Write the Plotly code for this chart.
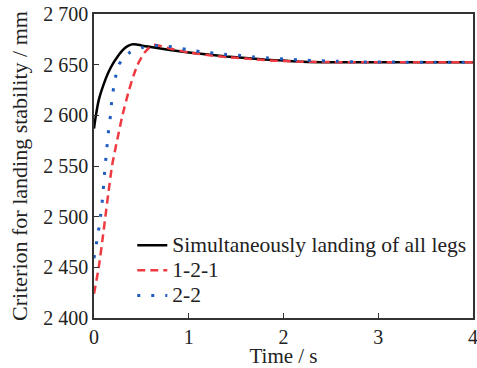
import plotly.graph_objects as go

# Time (s) and criterion values (mm)
t_all = [0, 0.02, 0.05, 0.1, 0.15, 0.2, 0.25, 0.3, 0.35, 0.4, 0.45, 0.5, 0.6, 0.8,
         1.0, 1.2, 1.4, 1.6, 1.8, 2.0, 2.2, 2.5, 3.0, 3.5, 4.0]
y_all = [2587, 2600, 2615, 2630, 2642, 2651, 2658, 2664, 2668, 2670, 2670, 2669, 2667.5, 2664.5,
         2662, 2660, 2658, 2656.5, 2655, 2654, 2653, 2652.5, 2652.5, 2652.5, 2652.5]

t_121 = [0, 0.05, 0.1, 0.12, 0.15, 0.19, 0.25, 0.3, 0.37, 0.42, 0.46, 0.5, 0.53, 0.58, 0.63,
         0.7, 0.8, 1.0, 1.2, 1.4, 1.6, 1.8, 2.0, 2.2, 2.5, 3.0, 3.5, 4.0]
y_121 = [2424, 2450, 2485, 2500, 2522, 2550, 2578, 2600, 2625, 2640, 2650, 2657, 2661.5, 2666.5, 2669.5,
         2668.5, 2666, 2662, 2659.5, 2657.5, 2656, 2654.5, 2653.5, 2653, 2652.5, 2652.5, 2652.5, 2652.5]

t_22 = [0, 0.03, 0.06, 0.09, 0.114, 0.132, 0.15, 0.174, 0.19, 0.22, 0.255, 0.3, 0.37, 0.51, 0.7,
        0.86, 0.98, 1.12, 1.26, 1.4, 1.55, 1.69, 1.84, 2.0, 2.25, 2.57, 2.82, 3.2, 3.6, 4.0]
y_22 = [2459, 2476, 2494, 2518, 2546, 2564, 2582, 2600, 2617, 2634, 2649, 2655, 2661.5, 2667, 2669,
        2667, 2665, 2663, 2661.5, 2660, 2659, 2657.6, 2656.6, 2655.6, 2654.3, 2653.3, 2652.7, 2652.5, 2652.5, 2652.5]

series_names = ["Simultaneously landing of all legs", "1-2-1", "2-2"]

x_ticks = [0, 1, 2, 3, 4]
y_ticks = [2400, 2450, 2500, 2550, 2600, 2650, 2700]
y_ticktext = ["2 400", "2 450", "2 500", "2 550", "2 600", "2 650", "2 700"]

FONT = "Liberation Serif, Times New Roman, serif"


def leg(name):
    return '<span style="font-size:21.5px">' + name + '</span>'


fig = go.Figure()
fig.add_trace(go.Scatter(x=t_all, y=y_all, mode="lines", name=leg(series_names[0]),
                         line=dict(color="black", width=2.5, shape="spline", smoothing=0.6)))
fig.add_trace(go.Scatter(x=t_121, y=y_121, mode="lines", name=leg(series_names[1]),
                         line=dict(color="#ee3a40", width=2.5, dash="8px,5px", shape="spline", smoothing=0.6)))
fig.add_trace(go.Scatter(x=t_22, y=y_22, mode="lines", name=leg(series_names[2]),
                         line=dict(color="#1f5cbf", width=3, dash="3px,11px", shape="spline", smoothing=0.6)))

fig.update_layout(
    width=477, height=368,
    margin=dict(l=94, r=4, t=14, b=50, autoexpand=False),
    paper_bgcolor="white", plot_bgcolor="white",
    font=dict(family=FONT, size=18, color="#222"),
    showlegend=True,
    legend=dict(x=0.101, y=0.297, xanchor="left", yanchor="top", bgcolor="rgba(0,0,0,0)",
                font=dict(family=FONT, size=17, color="#222"), tracegroupgap=0),
    xaxis=dict(range=[0, 4], tickvals=x_ticks, ticks="inside", ticklen=5, tickcolor="#333",
               showline=True, linecolor="#333", linewidth=1.5, mirror=True, showgrid=False,
               zeroline=False, automargin=True, ticklabeloverflow="allow",
               title=dict(text="Time / s", standoff=3, font=dict(family=FONT, size=21)),
               tickfont=dict(family=FONT, size=20)),
    yaxis=dict(range=[2400, 2700], tickvals=y_ticks, ticktext=y_ticktext, ticks="inside", ticklen=5,
               tickcolor="#333", showline=True, linecolor="#333", linewidth=1.5, mirror=True,
               showgrid=False, zeroline=False, automargin=False, ticklabeloverflow="allow",
               title=dict(text="Criterion for landing stability / mm", standoff=10,
                          font=dict(family=FONT, size=22)),
               tickfont=dict(family=FONT, size=20)),
)

fig.write_html("out.html", config={"displayModeBar": False},
               post_script="document.body.style.margin='0';")
